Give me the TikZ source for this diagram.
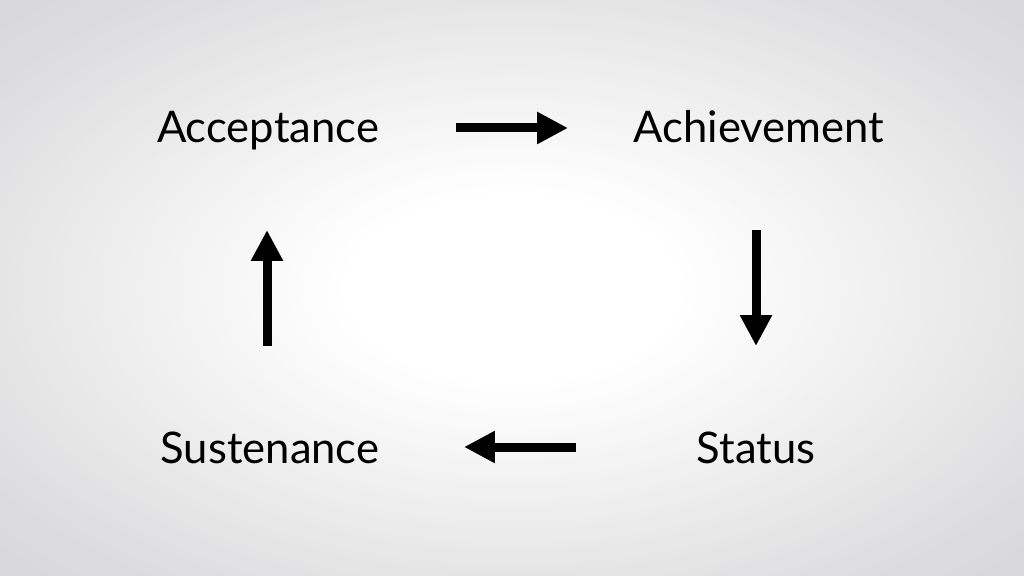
\documentclass[tikz,border=0pt]{standalone}
\usepackage{fontspec}
\setmainfont{Lato}
\usetikzlibrary{arrows.meta}
\definecolor{bgmid}{HTML}{F0F0F0}
\definecolor{bgedge}{HTML}{DDDDDF}
\definecolor{bgcorner}{HTML}{D3D2D7}
\pgfdeclareradialshading{slidebg}{\pgfpoint{0bp}{0bp}}{%
  color(0bp)=(white); color(8bp)=(white); color(18bp)=(bgmid); color(30bp)=(bgedge); color(40bp)=(bgcorner); color(50bp)=(bgcorner)}
\tikzset{
  every picture/.style={line join=miter, >=Stealth},
  stage/.style={font=\fontsize{31}{37}\selectfont, anchor=base, inner sep=0pt},
  flow/.style={-{Triangle[length=22pt,width=21.5pt]}, line width=6.4pt},
}

\begin{document}
\begin{tikzpicture}[x=0.025cm,y=-0.025cm]
\shade[shading=slidebg](0,0) rectangle (1024,576);
\useasboundingbox(0,0) rectangle (1024,576);
\node[stage](accept) at (268,142.5) {Acceptance};
\node[stage](achieve) at (759,142.5) {Achievement};
\node[stage](status) at (756,463.3) {Status};
\node[stage](sustain) at (270,463.3) {Sustenance};
\coordinate(r1) at (456,128); \coordinate(r2) at (568,128);
\coordinate(d1) at (756,230); \coordinate(d2) at (756,346);
\coordinate(l1) at (576,447); \coordinate(l2) at (464,447);
\coordinate(u1) at (267,346); \coordinate(u2) at (267,230);
\draw[flow](r1)--(r2);
\draw[flow](d1)--(d2);
\draw[flow](l1)--(l2);
\draw[flow](u1)--(u2);
\end{tikzpicture}
\end{document}
